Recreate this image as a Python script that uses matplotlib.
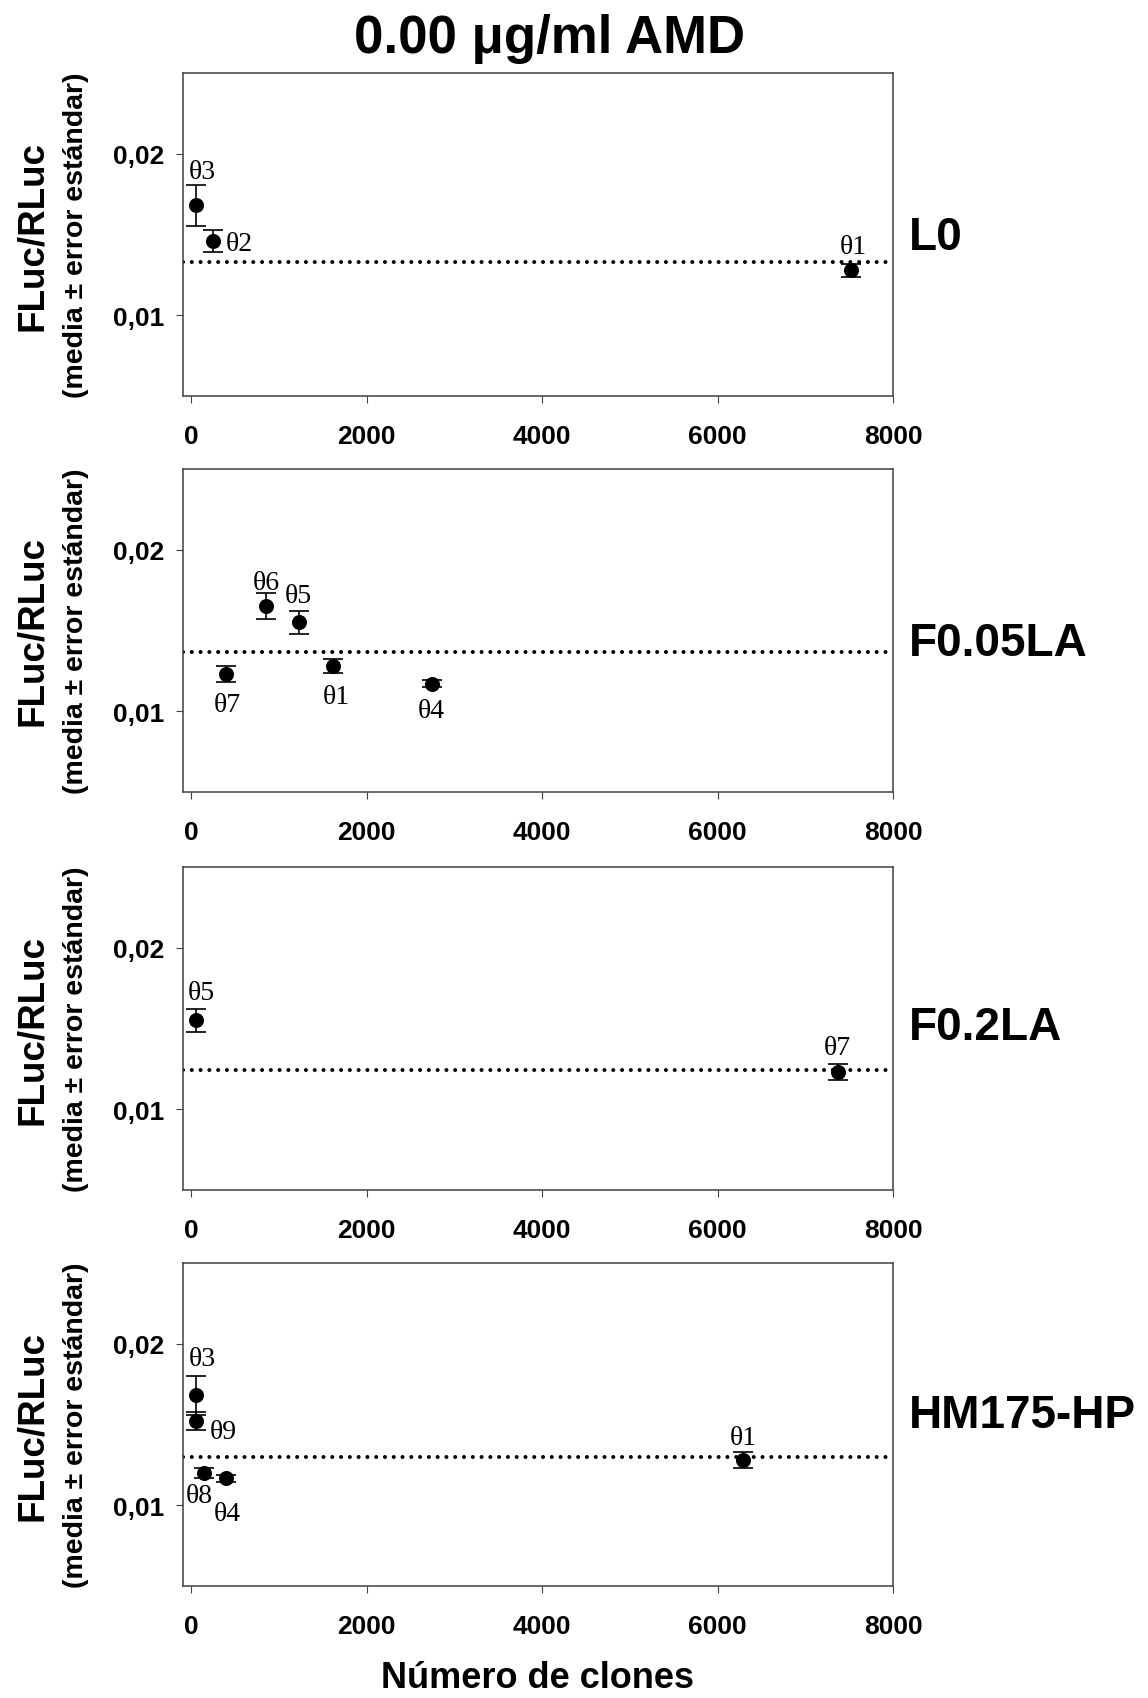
import matplotlib
matplotlib.use('Agg')
import matplotlib.pyplot as plt

#%% datos
paneles = ['L0', 'F0.05LA', 'F0.2LA', 'HM175-HP']

L0_x = [50, 250, 7520]
L0_y = [0.0168, 0.0146, 0.0128]
L0_err = [0.0013, 0.0007, 0.0004]
L0_lab = ['θ3', 'θ2', 'θ1']
L0_ref = 0.0133

F005_x = [400, 850, 1230, 1610, 2740]
F005_y = [0.0123, 0.0165, 0.0155, 0.0128, 0.0117]
F005_err = [0.0005, 0.0008, 0.0007, 0.00046, 0.0002]
F005_lab = ['θ7', 'θ6', 'θ5', 'θ1', 'θ4']
F005_ref = 0.01365

F02_x = [50, 7370]
F02_y = [0.0155, 0.0123]
F02_err = [0.0007, 0.00048]
F02_lab = ['θ5', 'θ7']
F02_ref = 0.0124

HM_x = [50, 50, 140, 400, 6290]
HM_y = [0.0168, 0.0152, 0.0120, 0.01166, 0.0128]
HM_err = [0.00123, 0.00056, 0.00033, 0.0002, 0.00049]
HM_lab = ['θ3', 'θ9', 'θ8', 'θ4', 'θ1']
HM_ref = 0.0130

xticks = [0, 2000, 4000, 6000, 8000]
yticks = [0.01, 0.02]
ytick_lab = ['0,01', '0,02']

# desplazamiento de las etiquetas theta (pixeles)
L0_off = [(7, 34), (26, -2), (2, 24)]
F005_off = [(1, -30), (0, 24), (-1, 27), (4, -31), (0, -27)]
F02_off = [(6, 28), (0, 25)]
HM_off = [(7, 37), (28, -10), (-4, -23), (1, -35), (0, 23)]

series = [(L0_x, L0_y, L0_err, L0_lab, L0_ref, L0_off),
          (F005_x, F005_y, F005_err, F005_lab, F005_ref, F005_off),
          (F02_x, F02_y, F02_err, F02_lab, F02_ref, F02_off),
          (HM_x, HM_y, HM_err, HM_lab, HM_ref, HM_off)]

# posicion vertical del nombre de cada panel (fraccion de eje)
nombre_y = [0.492, 0.46, 0.505, 0.531]
bottoms = [0.7663, 0.5333, 0.2990, 0.0659]

#%% figura
plt.rcParams['font.family'] = 'Liberation Sans'
W, H = 1148, 1699
fig = plt.figure(figsize=(W / 100, H / 100), dpi=100)

gris = '#404040'
for i, (xs, ys, es, labs, ref, offs) in enumerate(series):
    ax = fig.add_axes([0.1591, bottoms[i], 0.6188, 0.1901])
    ax.set_xlim(-100, 8000)
    ax.set_ylim(0.005, 0.025)

    ax.plot([-100, 8000], [ref, ref], color='black', lw=2.9,
            linestyle=(0, (0.01, 2.17)), dash_capstyle='round', zorder=1)
    ax.errorbar(xs, ys, yerr=es, fmt='o', color='black', ms=9.8,
                ecolor='black', elinewidth=1.2, capsize=7, capthick=1.2,
                zorder=3)
    for x, y, t, (dx, dy) in zip(xs, ys, labs, offs):
        ax.annotate(t, (x, y), xytext=(dx, dy), textcoords='offset pixels',
                    ha='center', va='center', fontsize=20,
                    family='Liberation Serif')

    ax.set_xticks(xticks)
    ax.set_xticklabels([str(v) for v in xticks], fontsize=19, fontweight='bold')
    ax.set_yticks(yticks)
    ax.set_yticklabels(ytick_lab, fontsize=19, fontweight='bold')
    ax.tick_params(axis='x', direction='out', length=5, width=0.8,
                   color=gris, pad=15)
    ax.tick_params(axis='y', direction='out', length=5, width=0.8,
                   color=gris, pad=8)
    for s in ax.spines.values():
        s.set_color(gris)
        s.set_linewidth(1.1)

    ax.text(1.0225, nombre_y[i], paneles[i], transform=ax.transAxes,
            ha='left', va='center', fontsize=33, fontweight='bold')

    yc = bottoms[i] + 0.1901 / 2
    fig.text(0.0287, yc, 'FLuc/RLuc', rotation=90, ha='center', va='center',
             fontsize=26.5, fontweight='bold')
    fig.text(0.0662, yc, '(media ± error estándar)', rotation=90,
             ha='center', va='center', fontsize=20.5, fontweight='bold')

fig.text(0.479, 0.9688, '0.00 μg/ml AMD', ha='center', va='baseline',
         fontsize=38, fontweight='bold')
fig.text(0.468, 0.0065, 'Número de clones', ha='center', va='baseline',
         fontsize=26, fontweight='bold')

plt.savefig('out.png', dpi=100)
